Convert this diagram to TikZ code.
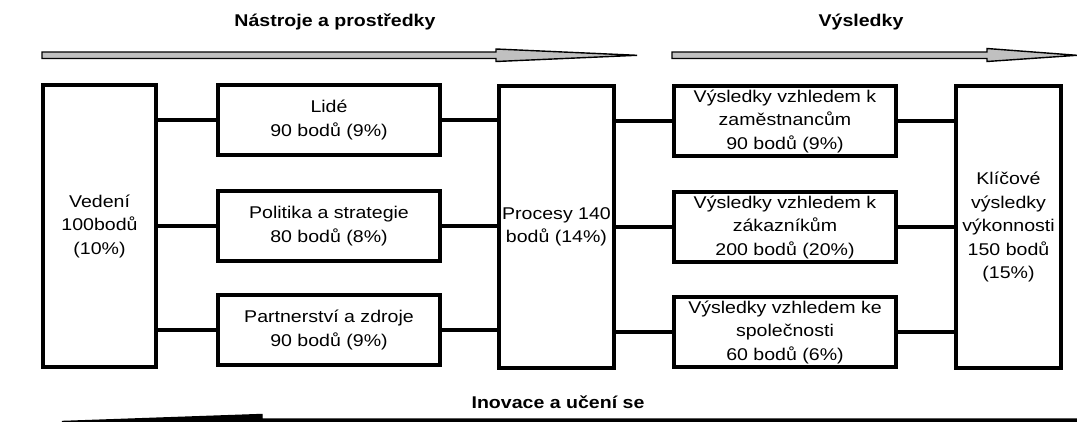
\documentclass[tikz,border=0pt]{standalone}
\usepackage{fontspec}
\setmainfont{Liberation Sans}[FakeStretch=1.15]
\definecolor{arrowgray}{RGB}{192,192,192}
\begin{document}
\begin{tikzpicture}[x=1pt,y=-1pt,
  every node/.style={font=\fontsize{17}{23.5}\selectfont, inner sep=0pt, outer sep=0pt, align=center},
  box/.style={draw=black, line width=3.8pt, fill=white},
  tallbox/.style={box, minimum height=282pt},
  widebox/.style={box, minimum width=222pt, minimum height=70pt},
  link/.style={draw=black, line width=3.4pt},
  bigarrow/.style={draw=black, line width=1.4pt, fill=arrowgray, line join=miter},
  title/.style={font=\bfseries\fontsize{17}{20}\selectfont}]
\useasboundingbox (0,0) rectangle (1077,421);

% titles and the two process arrows on top
\node[title] (t1) at (335,22) {Nástroje a prostředky};
\node[title] (t2) at (861,22) {Výsledky};
\draw[bigarrow] (42,52) -- (496,52) -- (496,49) -- (637,55.3) -- (496,61.5) -- (496,58.5) -- (42,58.5) -- cycle;
\draw[bigarrow] (672,52) -- (987,52) -- (987,48.5) -- (1077,55.3) -- (987,61.5) -- (987,58.5) -- (672,58.5) -- cycle;

% enablers
\node[tallbox, minimum width=113pt] (ved) at (99.5,226) {Vedení\\100bodů\\(10\%)};
\node[widebox] (lide) at (329,120) {Lidé\\90 bodů (9\%)};
\node[widebox] (pol) at (329,226) {Politika a strategie\\80 bodů (8\%)};
\node[widebox] (par) at (329,330) {Partnerství a zdroje\\90 bodů (9\%)};
\node[tallbox, minimum width=115pt] (proc) at (556.5,227) {Procesy 140\\bodů (14\%)};

% results
\node[widebox] (zam) at (785,121) {Výsledky vzhledem k\\zaměstnancům\\90 bodů (9\%)};
\node[widebox] (zak) at (785,227) {Výsledky vzhledem k\\zákazníkům\\200 bodů (20\%)};
\node[widebox] (spol) at (785,332) {Výsledky vzhledem ke\\společnosti\\60 bodů (6\%)};
\node[tallbox, minimum width=105pt] (kli) at (1008.5,227) {Klíčové\\výsledky\\výkonnosti\\150 bodů\\(15\%)};

% connectors
\foreach \b in {lide,pol,par}{
  \draw[link] (ved.east |- \b.west) -- (\b.west);
  \draw[link] (\b.east) -- (proc.west |- \b.east);
}
\foreach \b in {zam,zak,spol}{
  \draw[link] (proc.east |- \b.west) -- (\b.west);
  \draw[link] (\b.east) -- (kli.west |- \b.east);
}

% feedback arrow at the bottom
\node[title] (t3) at (558,402) {Inovace a učení se};
\draw[bigarrow, fill=black] (1090,419) -- (262,419) -- (262,414.5) -- (62,421.5) -- (262,428.5) -- (262,424) -- (1090,424) -- cycle;
\end{tikzpicture}
\end{document}
